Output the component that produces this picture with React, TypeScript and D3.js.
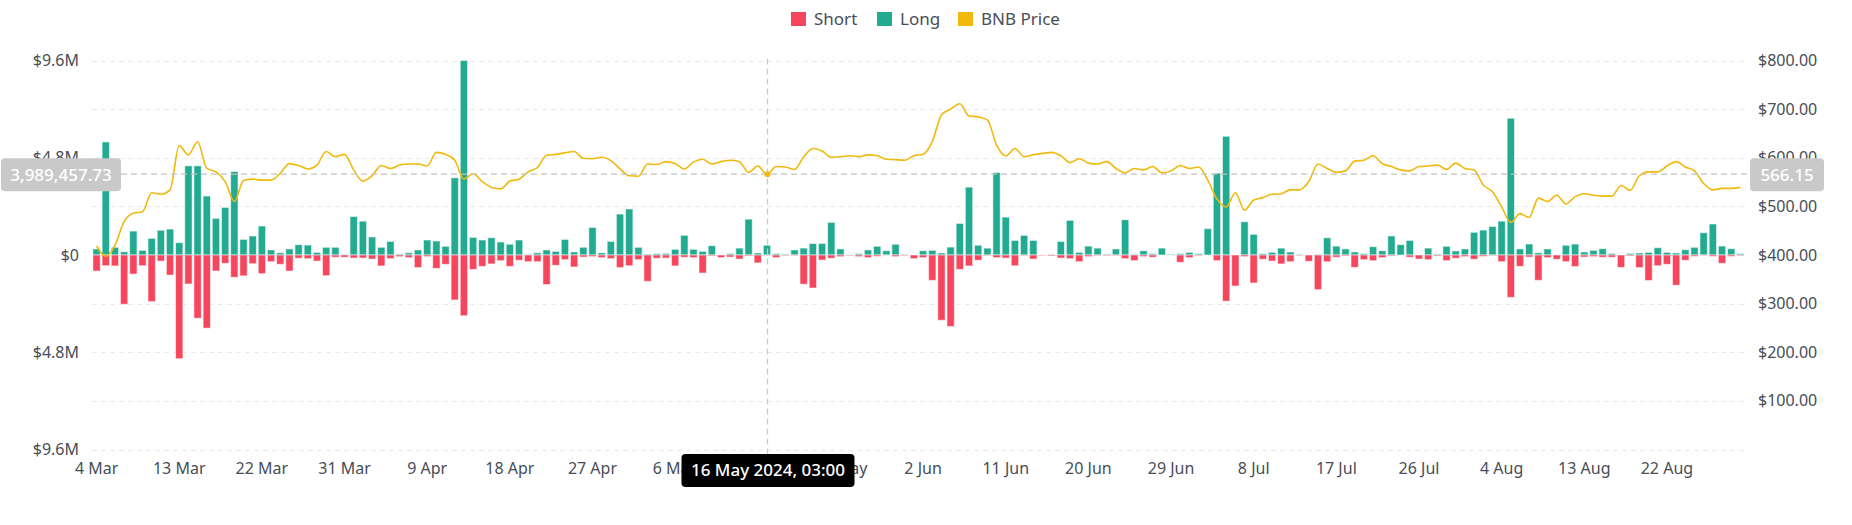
import * as d3 from "d3";
import { useEffect, useRef } from "react";

const WIDTH = 1852;
const HEIGHT = 525;

// daily buckets, 4 Mar 2024 .. 30 Aug 2024
const startDay = new Date(2024, 2, 4);
const endDay = new Date(2024, 7, 31);

// liquidation volume, $M
const longValues = [
  0.3, 5.58, 0.38, 0.16, 1.18, 0.23, 0.82, 1.22, 1.28, 0.61,
  4.4, 4.4, 2.91, 1.81, 2.35, 4.12, 0.77, 0.94, 1.43, 0.25,
  0.11, 0.3, 0.51, 0.49, 0.13, 0.38, 0.38, 0.03, 1.9, 1.67,
  0.89, 0.38, 0.67, 0.05, 0.11, 0.25, 0.74, 0.69, 0.43, 3.81,
  9.6, 0.87, 0.74, 0.85, 0.64, 0.53, 0.74, 0.03, 0.11, 0.25,
  0.18, 0.77, 0.15, 0.38, 1.36, 0.11, 0.67, 2.02, 2.27, 0.38,
  0.05, 0.07, 0.08, 0.28, 0.97, 0.28, 0.18, 0.46, 0.0, 0.07,
  0.34, 1.77, 0.1, 0.48, 0.07, 0.05, 0.25, 0.34, 0.57, 0.57,
  1.61, 0.3, 0.0, 0.07, 0.25, 0.43, 0.21, 0.53, 0.03, 0.0,
  0.21, 0.23, 0.1, 0.39, 1.56, 3.35, 0.48, 0.34, 4.07, 1.87,
  0.72, 0.97, 0.72, 0.0, 0.03, 0.67, 1.71, 0.13, 0.44, 0.34,
  0.05, 0.3, 1.74, 0.03, 0.21, 0.07, 0.34, 0.03, 0.07, 0.13,
  0.07, 1.3, 4.04, 5.86, 0.0, 1.64, 1.02, 0.07, 0.13, 0.34,
  0.15, 0.03, 0.0, 0.03, 0.85, 0.44, 0.3, 0.15, 0.07, 0.41,
  0.21, 0.94, 0.51, 0.72, 0.0, 0.34, 0.05, 0.43, 0.2, 0.3,
  1.12, 1.23, 1.41, 1.67, 6.75, 0.3, 0.54, 0.11, 0.3, 0.0,
  0.48, 0.54, 0.15, 0.23, 0.31, 0.08, 0.0, 0.08, 0.1, 0.13,
  0.36, 0.13, 0.1, 0.26, 0.38, 1.1, 1.53, 0.44, 0.31, 0.07,
];

const shortValues = [
  0.79, 0.53, 0.54, 2.43, 0.94, 0.53, 2.3, 0.3, 0.99, 5.12,
  1.43, 3.12, 3.61, 0.79, 0.41, 1.1, 1.03, 0.43, 0.92, 0.33,
  0.46, 0.79, 0.16, 0.18, 0.3, 1.02, 0.11, 0.11, 0.15, 0.15,
  0.2, 0.54, 0.18, 0.08, 0.13, 0.62, 0.08, 0.66, 0.46, 2.22,
  3.0, 0.71, 0.56, 0.44, 0.28, 0.56, 0.26, 0.33, 0.33, 1.46,
  0.51, 0.23, 0.59, 0.1, 0.08, 0.13, 0.18, 0.62, 0.53, 0.23,
  1.3, 0.16, 0.15, 0.54, 0.11, 0.13, 0.89, 0.05, 0.13, 0.1,
  0.2, 0.05, 0.39, 0.02, 0.13, 0.03, 0.03, 1.44, 1.63, 0.25,
  0.16, 0.08, 0.03, 0.08, 0.13, 0.07, 0.01, 0.08, 0.03, 0.18,
  0.13, 1.25, 3.22, 3.53, 0.71, 0.54, 0.26, 0.03, 0.13, 0.15,
  0.53, 0.03, 0.2, 0.03, 0.05, 0.15, 0.18, 0.33, 0.08, 0.03,
  0.03, 0.03, 0.18, 0.28, 0.08, 0.11, 0.0, 0.0, 0.36, 0.13,
  0.03, 0.0, 0.28, 2.28, 1.53, 0.08, 1.38, 0.21, 0.3, 0.44,
  0.33, 0.03, 0.31, 1.71, 0.33, 0.11, 0.05, 0.61, 0.23, 0.28,
  0.13, 0.05, 0.0, 0.11, 0.2, 0.23, 0.05, 0.28, 0.16, 0.08,
  0.21, 0.07, 0.03, 0.33, 2.09, 0.56, 0.1, 1.25, 0.13, 0.21,
  0.33, 0.57, 0.1, 0.08, 0.11, 0.11, 0.61, 0.05, 0.62, 1.26,
  0.53, 0.46, 1.49, 0.26, 0.07, 0.02, 0.07, 0.41, 0.07, 0.03,
];

const bnbPrice = [
  419, 397, 420, 469, 486, 489, 528, 525, 534, 625,
  606, 633, 578, 571, 551, 510, 553, 556, 554, 554,
  568, 588, 584, 577, 585, 613, 602, 607, 575, 552,
  563, 584, 578, 585, 587, 587, 583, 611, 607, 595,
  556, 567, 551, 539, 536, 552, 556, 571, 580, 605,
  607, 610, 613, 599, 598, 601, 594, 577, 563, 562,
  587, 586, 592, 588, 577, 591, 597, 587, 592, 595,
  592, 570, 583, 566, 582, 581, 576, 602, 619, 614,
  601, 602, 604, 602, 606, 604, 597, 596, 595, 604,
  607, 633, 688, 700, 711, 686, 684, 678, 626, 604,
  619, 602, 606, 609, 611, 604, 590, 598, 589, 587,
  592, 578, 569, 578, 575, 582, 569, 573, 584, 578,
  581, 554, 515, 499, 528, 492, 513, 518, 525, 526,
  534, 534, 551, 587, 578, 570, 573, 593, 595, 604,
  588, 582, 575, 573, 582, 583, 585, 576, 589, 578,
  575, 544, 530, 499, 467, 485, 477, 517, 510, 523,
  505, 520, 526, 523, 521, 521, 543, 533, 563, 571,
  571, 583, 592, 581, 573, 547, 534, 537, 537, 539,
];

const xTickLabels = [
  "4 Mar", "13 Mar", "22 Mar", "31 Mar", "9 Apr", "18 Apr", "27 Apr",
  "6 May", "15 May", "24 May", "2 Jun", "11 Jun", "20 Jun", "29 Jun",
  "8 Jul", "17 Jul", "26 Jul", "4 Aug", "13 Aug", "22 Aug",
];
const leftTicks = [9.6, 4.8, 0, -4.8, -9.6];
const rightTicks = [800, 700, 600, 500, 400, 300, 200, 100];
const gridTicks = [0, 100, 200, 300, 400, 500, 600, 700, 800];

// hover state shown in the screenshot
const hoverLabel = "16 May 2024, 03:00";
const hoverDay = "16 May";
const hoverAmount = 3989457.73;
const hoverPrice = 566.15;

const COLORS = { short: "#f6465d", long: "#22ab91", price: "#f0b90b" };
const FONT = "'Noto Sans', Roboto, sans-serif";
const TEXT = "#474d57";

export default function App() {
  const svgRef = useRef<SVGSVGElement>(null);

  useEffect(() => {
    if (!svgRef.current) return;
    const svg = d3.select(svgRef.current);
    svg.selectAll("*").remove();

    const days = d3.timeDay.range(startDay, endDay);
    const fmt = d3.timeFormat("%-d %b");
    const idx = d3.range(days.length);

    const plot = { left: 92, right: 1745, top: 60.5, bottom: 449.5 };

    const x = d3
      .scaleBand<number>()
      .domain(idx)
      .range([plot.left, plot.right])
      .paddingInner(0.2)
      .paddingOuter(0.1);
    const cx = (i: number) => (x(i) as number) + x.bandwidth() / 2;

    const yL = d3.scaleLinear().domain([-9.6, 9.6]).range([plot.bottom, plot.top]);
    const yR = d3.scaleLinear().domain([0, 800]).range([plot.bottom, plot.top]);

    // Grid
    svg
      .append("g")
      .selectAll("line")
      .data(gridTicks)
      .enter()
      .append("line")
      .attr("x1", plot.left)
      .attr("x2", plot.right)
      .attr("y1", (d) => Math.round(yR(d)) + 0.5)
      .attr("y2", (d) => Math.round(yR(d)) + 0.5)
      .style("stroke", "#e9eaec")
      .style("stroke-width", 1.2)
      .style("stroke-dasharray", "5,4");

    // Bars
    const bars = svg.append("g");
    bars
      .selectAll(".long")
      .data(idx)
      .enter()
      .append("rect")
      .attr("class", "long")
      .attr("x", (i) => x(i) as number)
      .attr("width", x.bandwidth())
      .attr("y", (i) => yL(longValues[i]))
      .attr("height", (i) => yL(0) - yL(longValues[i]))
      .style("fill", COLORS.long)
      .style("stroke", "rgba(255,255,255,0.55)")
      .style("stroke-width", 1);

    bars
      .selectAll(".short")
      .data(idx)
      .enter()
      .append("rect")
      .attr("class", "short")
      .attr("x", (i) => x(i) as number)
      .attr("width", x.bandwidth())
      .attr("y", yL(0))
      .attr("height", (i) => yL(-shortValues[i]) - yL(0))
      .style("fill", COLORS.short)
      .style("stroke", "rgba(255,255,255,0.55)")
      .style("stroke-width", 1);

    // Price line
    const line = d3
      .line<number>()
      .x((i) => cx(i))
      .y((i) => yR(bnbPrice[i]))
      .curve(d3.curveMonotoneX);

    svg
      .append("path")
      .datum(idx)
      .attr("d", line)
      .style("fill", "none")
      .style("stroke", COLORS.price)
      .style("stroke-width", 1.6);

    // Left axis labels
    svg
      .append("g")
      .selectAll("text")
      .data(leftTicks)
      .enter()
      .append("text")
      .attr("x", 79)
      .attr("y", (d) => yL(d))
      .attr("dy", "0.35em")
      .attr("text-anchor", "end")
      .style("font-family", FONT)
      .style("font-size", "16px")
      .style("fill", TEXT)
      .text((d) => (d === 0 ? "$0" : `$${Math.abs(d).toFixed(1)}M`));

    // Right axis labels
    svg
      .append("g")
      .selectAll("text")
      .data(rightTicks)
      .enter()
      .append("text")
      .attr("x", 1758)
      .attr("y", (d) => yR(d))
      .attr("dy", "0.35em")
      .style("font-family", FONT)
      .style("font-size", "16px")
      .style("fill", TEXT)
      .text((d) => `$${d3.format(",.2f")(d)}`);

    // X axis labels
    svg
      .append("g")
      .selectAll("text")
      .data(xTickLabels)
      .enter()
      .append("text")
      .attr("x", (d) => cx(days.findIndex((day) => fmt(day) === d)))
      .attr("y", 468)
      .attr("dy", "0.35em")
      .attr("text-anchor", "middle")
      .style("font-family", FONT)
      .style("font-size", "16px")
      .style("fill", TEXT)
      .text((d) => d);

    // Crosshair
    const hi = days.findIndex((day) => fmt(day) === hoverDay);
    const hx = Math.round(cx(hi)) + 0.5;
    const hy = yL(hoverAmount / 1e6);

    svg
      .append("line")
      .attr("x1", hx)
      .attr("x2", hx)
      .attr("y1", plot.top - 2)
      .attr("y2", 455)
      .style("stroke", "#c9c9c9")
      .style("stroke-width", 1.3)
      .style("stroke-dasharray", "6,4");

    svg
      .append("line")
      .attr("x1", 121)
      .attr("x2", 1750)
      .attr("y1", hy)
      .attr("y2", hy)
      .style("stroke", "#c2c2c2")
      .style("stroke-width", 1.3)
      .style("stroke-dasharray", "6,4");

    svg
      .append("circle")
      .attr("cx", hx)
      .attr("cy", yR(hoverPrice))
      .attr("r", 3)
      .style("fill", COLORS.price);

    const box = (
      bx: number,
      by: number,
      bw: number,
      bh: number,
      fill: string,
      label: string,
    ) => {
      svg
        .append("rect")
        .attr("x", bx)
        .attr("y", by)
        .attr("width", bw)
        .attr("height", bh)
        .attr("rx", 4)
        .style("fill", fill);
      svg
        .append("text")
        .attr("x", bx + bw / 2)
        .attr("y", by + bh / 2)
        .attr("dy", "0.35em")
        .attr("text-anchor", "middle")
        .style("font-family", FONT)
        .style("font-size", "17px")
        .style("font-weight", 500)
        .style("fill", "#ffffff")
        .text(label);
    };

    box(1, hy - 16, 120, 33, "#c9c9c9", d3.format(",.2f")(hoverAmount));
    box(1750, hy - 16, 74, 33, "#c9c9c9", d3.format(".2f")(hoverPrice));
    box(hx - 86, 454, 173, 33, "#000000", hoverLabel);

    // Legend
    const legendItems = [
      { label: "Short", color: COLORS.short, x: 791 },
      { label: "Long", color: COLORS.long, x: 877 },
      { label: "BNB Price", color: COLORS.price, x: 958 },
    ];
    const legend = svg.append("g");
    legendItems.forEach((item) => {
      legend
        .append("rect")
        .attr("x", item.x)
        .attr("y", 12)
        .attr("width", 15)
        .attr("height", 14)
        .style("fill", item.color);
      legend
        .append("text")
        .attr("x", item.x + 23)
        .attr("y", 19)
        .attr("dy", "0.35em")
        .style("font-family", FONT)
        .style("font-size", "17px")
        .style("fill", TEXT)
        .text(item.label);
    });
  }, []);

  return (
    <svg
      ref={svgRef}
      width={WIDTH}
      height={HEIGHT}
      style={{ position: "absolute", left: 0, top: 0, background: "#ffffff" }}
    />
  );
}
